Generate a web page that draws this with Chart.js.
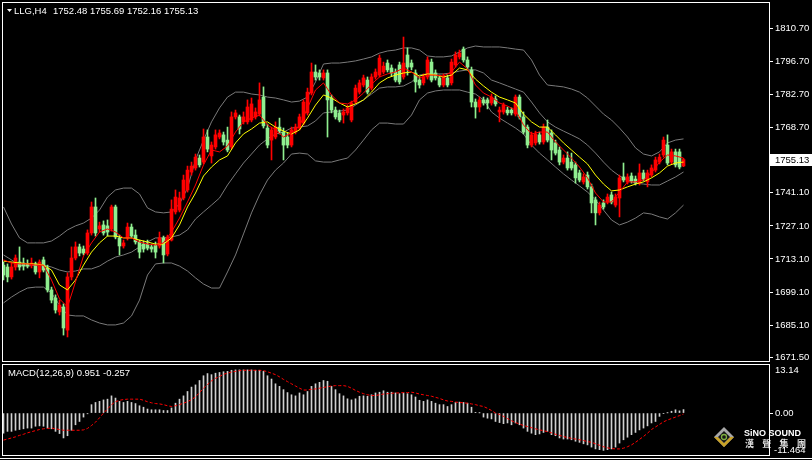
<!DOCTYPE html>
<html>
<head>
<meta charset="utf-8">
<script src="https://cdn.jsdelivr.net/npm/chart.js@4.4.1/dist/chart.umd.min.js"></script>
<style>
  html, body { margin: 0; padding: 0; background: #000; }
  #wrap { position: relative; width: 812px; height: 460px; background: #000; overflow: hidden; }
  canvas { position: absolute; left: 0; }
  #priceChart { top: 0; }
  #macdChart { top: 362px; }
</style>
</head>
<body>
<div id="wrap">
  <canvas id="priceChart" width="812" height="362"></canvas>
  <canvas id="macdChart" width="812" height="98"></canvas>
</div>
<script>
// LLG, H4 candles, oldest first
const opens = [
  1710.5, 1709.7, 1705.5, 1709.7, 1711.8, 1711.4, 1711.0, 1710.5, 1711.0, 1707.6,
  1712.7, 1709.3, 1700.0, 1696.6, 1690.7, 1692.8, 1683.0, 1705.5, 1713.5, 1718.2,
  1717.3, 1715.6, 1724.1, 1735.1, 1725.8, 1727.5, 1727.1, 1725.8, 1735.1, 1722.0,
  1718.6, 1722.0, 1726.6, 1723.2, 1720.3, 1719.4, 1719.4, 1718.2, 1719.0, 1718.6,
  1722.0, 1715.2, 1721.1, 1733.0, 1733.8, 1738.9, 1742.3, 1749.9, 1751.6, 1755.8,
  1754.1, 1764.7, 1756.7, 1760.5, 1764.7, 1765.6, 1763.4, 1760.5, 1773.2, 1773.2,
  1771.1, 1771.1, 1771.9, 1773.2, 1774.4, 1781.6, 1768.5, 1763.4, 1764.7, 1768.9,
  1766.8, 1764.7, 1761.3, 1766.8, 1768.5, 1770.6, 1774.9, 1783.3, 1792.2, 1791.8,
  1789.7, 1791.8, 1781.2, 1776.1, 1774.9, 1774.0, 1774.9, 1771.9, 1779.5, 1783.7,
  1786.7, 1788.8, 1785.4, 1790.1, 1790.9, 1792.2, 1796.0, 1793.9, 1792.2, 1795.2,
  1790.1, 1799.4, 1796.0, 1791.8, 1788.8, 1787.6, 1790.1, 1796.4, 1791.8, 1789.7,
  1786.7, 1789.7, 1787.6, 1795.2, 1798.6, 1801.9, 1797.3, 1793.1, 1779.5, 1777.4,
  1780.4, 1780.4, 1779.1, 1780.8, 1775.3, 1775.3, 1776.1, 1776.1, 1774.4, 1781.6,
  1773.2, 1768.9, 1761.3, 1762.2, 1765.6, 1762.6, 1768.9, 1766.4, 1762.2, 1759.2,
  1754.1, 1755.8, 1754.1, 1752.9, 1749.5, 1745.7, 1748.6, 1743.6, 1738.1, 1732.6,
  1736.8, 1737.2, 1740.2, 1735.9, 1738.9, 1747.8, 1745.7, 1748.2, 1746.9, 1745.2,
  1749.5, 1745.7, 1748.6, 1750.7, 1754.1, 1757.1, 1761.3, 1754.1, 1758.4, 1758.4,
  1752.48
];
const highs = [
  1711.8, 1711.0, 1711.8, 1714.8, 1718.2, 1713.5, 1712.7, 1713.5, 1711.8, 1712.7,
  1713.9, 1710.5, 1701.2, 1697.9, 1695.7, 1694.1, 1707.2, 1718.2, 1720.3, 1719.4,
  1718.6, 1725.4, 1737.2, 1738.9, 1728.7, 1729.2, 1729.6, 1735.9, 1735.9, 1723.2,
  1721.1, 1728.3, 1727.9, 1725.4, 1721.1, 1720.7, 1721.1, 1719.4, 1720.3, 1724.5,
  1722.8, 1723.2, 1738.1, 1742.3, 1741.4, 1748.6, 1752.4, 1754.1, 1757.5, 1757.1,
  1768.1, 1767.7, 1762.6, 1767.7, 1767.7, 1766.8, 1768.9, 1775.3, 1776.1, 1774.0,
  1775.3, 1780.4, 1781.2, 1777.0, 1787.6, 1785.9, 1770.2, 1768.9, 1771.1, 1772.7,
  1768.5, 1766.4, 1768.9, 1770.2, 1774.4, 1780.4, 1785.4, 1796.0, 1795.2, 1793.1,
  1793.1, 1793.1, 1782.5, 1777.4, 1776.1, 1776.6, 1778.2, 1779.9, 1786.7, 1788.8,
  1790.9, 1790.1, 1791.4, 1793.5, 1799.4, 1796.4, 1797.3, 1795.2, 1793.5, 1796.4,
  1807.0, 1802.4, 1797.3, 1793.1, 1790.1, 1791.4, 1798.6, 1797.7, 1793.1, 1790.9,
  1791.4, 1790.9, 1797.7, 1800.7, 1801.5, 1802.8, 1798.6, 1794.3, 1780.8, 1781.6,
  1781.6, 1781.2, 1782.9, 1782.1, 1777.4, 1779.1, 1777.4, 1777.0, 1782.5, 1782.5,
  1775.3, 1769.8, 1766.8, 1767.2, 1766.8, 1770.2, 1771.9, 1767.7, 1763.4, 1760.5,
  1757.1, 1758.4, 1757.9, 1754.1, 1750.7, 1749.1, 1749.9, 1744.8, 1739.3, 1737.2,
  1738.1, 1740.6, 1741.4, 1740.6, 1748.6, 1753.7, 1749.1, 1749.5, 1748.2, 1753.3,
  1750.7, 1750.7, 1752.9, 1756.2, 1757.5, 1764.7, 1765.6, 1759.6, 1759.6, 1759.6,
  1755.69
];
const lows = [
  1704.2, 1703.4, 1704.6, 1708.4, 1708.4, 1708.4, 1709.3, 1709.3, 1706.7, 1705.1,
  1707.6, 1699.1, 1694.5, 1690.2, 1689.4, 1680.9, 1680.1, 1704.2, 1712.7, 1714.4,
  1714.8, 1714.8, 1723.2, 1722.8, 1724.5, 1723.2, 1722.8, 1724.9, 1721.6, 1714.8,
  1717.7, 1721.1, 1722.0, 1719.4, 1713.5, 1716.0, 1716.9, 1716.0, 1713.5, 1717.7,
  1711.4, 1714.4, 1720.7, 1732.1, 1733.0, 1738.1, 1741.4, 1748.6, 1750.7, 1752.0,
  1753.3, 1758.4, 1753.7, 1759.6, 1763.9, 1761.3, 1758.4, 1759.6, 1772.3, 1766.0,
  1770.2, 1770.2, 1771.1, 1772.3, 1773.6, 1768.5, 1760.1, 1755.0, 1763.9, 1766.0,
  1755.0, 1760.1, 1760.5, 1766.0, 1767.7, 1769.8, 1774.0, 1782.5, 1788.8, 1788.8,
  1788.8, 1764.7, 1774.9, 1772.3, 1771.1, 1770.6, 1774.0, 1771.1, 1778.7, 1782.9,
  1785.9, 1782.9, 1784.6, 1789.2, 1790.1, 1791.4, 1792.2, 1790.5, 1788.0, 1787.1,
  1789.2, 1790.9, 1793.1, 1783.7, 1785.4, 1786.7, 1789.2, 1788.0, 1788.8, 1785.9,
  1785.9, 1785.9, 1786.7, 1794.3, 1797.7, 1796.4, 1793.5, 1777.4, 1772.7, 1775.3,
  1778.2, 1776.6, 1778.2, 1777.8, 1771.1, 1774.4, 1774.0, 1774.0, 1773.6, 1772.3,
  1766.0, 1760.1, 1760.5, 1761.3, 1761.7, 1761.7, 1762.6, 1755.0, 1757.1, 1752.9,
  1753.3, 1750.7, 1750.7, 1745.2, 1745.7, 1744.8, 1742.7, 1732.6, 1727.5, 1731.7,
  1734.2, 1736.4, 1736.4, 1735.1, 1730.9, 1745.7, 1744.8, 1745.2, 1744.4, 1744.4,
  1746.1, 1743.6, 1747.8, 1749.9, 1753.3, 1756.2, 1752.9, 1753.3, 1752.0, 1751.2,
  1752.16
];
const closes = [
  1706.3, 1705.5, 1709.7, 1713.5, 1709.7, 1710.1, 1710.1, 1711.4, 1707.6, 1711.8,
  1708.4, 1700.0, 1695.7, 1691.5, 1693.6, 1683.9, 1705.5, 1713.5, 1718.2, 1715.6,
  1715.6, 1724.1, 1735.1, 1724.1, 1727.1, 1724.1, 1724.5, 1735.1, 1722.4, 1718.6,
  1719.9, 1726.6, 1722.8, 1720.3, 1716.0, 1717.3, 1717.7, 1717.3, 1716.0, 1722.0,
  1714.8, 1722.4, 1734.2, 1739.3, 1738.9, 1746.5, 1750.7, 1752.4, 1756.2, 1752.9,
  1764.7, 1759.6, 1761.3, 1765.6, 1766.4, 1762.6, 1759.2, 1773.2, 1774.9, 1768.1,
  1773.2, 1777.4, 1778.7, 1775.3, 1780.4, 1769.4, 1761.3, 1767.7, 1768.9, 1767.2,
  1761.3, 1761.3, 1767.7, 1768.9, 1773.2, 1779.5, 1783.7, 1792.2, 1790.1, 1790.1,
  1791.8, 1780.4, 1776.1, 1773.2, 1771.9, 1775.3, 1777.0, 1779.1, 1785.4, 1787.6,
  1789.7, 1783.7, 1790.1, 1792.2, 1798.1, 1794.7, 1793.1, 1791.8, 1788.8, 1788.0,
  1796.0, 1794.3, 1794.3, 1788.0, 1786.7, 1790.1, 1797.3, 1788.8, 1789.7, 1786.7,
  1790.1, 1786.7, 1796.4, 1799.4, 1800.2, 1797.3, 1794.3, 1779.5, 1777.4, 1780.4,
  1779.1, 1779.1, 1781.6, 1778.7, 1776.1, 1778.2, 1774.9, 1774.9, 1781.6, 1773.2,
  1766.8, 1761.3, 1765.6, 1766.0, 1762.6, 1768.9, 1763.4, 1759.2, 1757.9, 1754.1,
  1755.8, 1751.6, 1751.6, 1747.4, 1746.5, 1747.8, 1743.6, 1736.8, 1732.6, 1735.9,
  1735.1, 1739.3, 1737.2, 1739.3, 1747.4, 1746.5, 1747.8, 1746.1, 1745.2, 1749.5,
  1746.9, 1749.5, 1751.6, 1755.0, 1756.2, 1763.4, 1753.7, 1758.4, 1752.9, 1752.0,
  1755.13
];

// indicator lines, one point every 2nd candle
const lineStep = 2;
const bbUpper = [
  1735.1, 1727.9, 1722.0, 1719.9, 1719.9, 1719.9, 1720.7, 1722.8, 1725.4, 1727.1,
  1728.3, 1730.4, 1733.8, 1739.3, 1742.3, 1743.1, 1743.1, 1740.6, 1734.7, 1733.0,
  1732.6, 1733.0, 1736.4, 1743.1, 1755.0, 1763.4, 1771.1, 1777.0, 1781.6, 1783.7,
  1783.7, 1782.9, 1782.5, 1781.6, 1781.2, 1780.4, 1779.5, 1779.9, 1781.6, 1788.0,
  1795.6, 1796.0, 1796.0, 1796.4, 1796.9, 1797.7, 1798.6, 1800.2, 1801.1, 1801.5,
  1802.4, 1802.4, 1801.5, 1799.0, 1798.6, 1798.6, 1799.0, 1800.7, 1802.4, 1803.2,
  1802.8, 1802.8, 1802.8, 1802.4, 1801.9, 1801.5, 1797.3, 1790.9, 1786.7, 1786.3,
  1785.9, 1785.0, 1783.7, 1781.2, 1777.8, 1774.4, 1771.9, 1768.5, 1764.7, 1760.1,
  1757.5, 1756.7, 1758.4, 1762.2, 1763.4, 1763.9
];
const bbMiddle = [
  1714.8, 1712.7, 1710.5, 1710.1, 1710.5, 1710.5, 1709.7, 1708.4, 1707.6, 1708.0,
  1708.9, 1708.9, 1710.1, 1712.2, 1713.9, 1714.8, 1716.0, 1718.2, 1720.3, 1722.0,
  1722.0, 1722.4, 1723.2, 1725.4, 1730.0, 1733.0, 1735.9, 1738.9, 1744.4, 1749.1,
  1753.7, 1757.5, 1761.3, 1763.9, 1766.0, 1766.8, 1768.5, 1768.9, 1769.4, 1771.5,
  1774.9, 1775.3, 1775.7, 1776.1, 1778.2, 1780.4, 1782.9, 1785.4, 1785.9, 1785.9,
  1786.3, 1788.0, 1790.9, 1791.4, 1791.4, 1791.4, 1791.8, 1792.6, 1793.1, 1793.1,
  1791.8, 1788.8, 1787.6, 1786.3, 1785.0, 1783.7, 1779.5, 1774.9, 1771.1, 1768.9,
  1767.2, 1765.6, 1763.9, 1761.3, 1757.9, 1754.1, 1750.7, 1748.2, 1746.5, 1745.2,
  1744.8, 1744.4, 1744.4, 1746.1, 1747.8, 1749.9
];
const bbLower = [
  1694.5, 1697.0, 1699.1, 1700.8, 1701.2, 1701.2, 1698.7, 1693.6, 1689.4, 1689.0,
  1689.0, 1687.3, 1686.0, 1685.2, 1685.2, 1686.0, 1689.0, 1695.7, 1706.3, 1711.0,
  1711.4, 1711.4, 1710.1, 1708.0, 1705.1, 1702.5, 1700.8, 1700.8, 1707.6, 1714.8,
  1723.7, 1732.6, 1740.2, 1746.5, 1750.7, 1753.7, 1757.5, 1757.9, 1757.5, 1754.6,
  1754.1, 1754.1, 1755.0, 1755.8, 1759.2, 1763.4, 1767.7, 1770.6, 1770.6, 1770.2,
  1770.2, 1774.0, 1780.4, 1783.3, 1784.2, 1784.6, 1784.6, 1784.6, 1783.7, 1782.9,
  1780.4, 1775.3, 1772.7, 1770.6, 1768.5, 1766.0, 1761.3, 1757.9, 1755.0, 1752.0,
  1749.1, 1746.5, 1744.0, 1741.4, 1738.1, 1733.8, 1729.6, 1727.5, 1728.7, 1730.4,
  1732.6, 1732.1, 1730.9, 1730.0, 1732.6, 1735.9
];
const maSlow = [   // yellow
  1712.2, 1711.8, 1711.4, 1711.0, 1711.0, 1710.5, 1708.4, 1702.1, 1700.0, 1704.2,
  1710.5, 1716.0, 1719.9, 1722.8, 1722.8, 1722.0, 1722.0, 1721.1, 1720.3, 1719.4,
  1719.4, 1722.0, 1727.5, 1735.1, 1741.0, 1748.2, 1752.0, 1755.0, 1756.7, 1762.2,
  1766.0, 1768.1, 1770.6, 1771.1, 1768.9, 1767.2, 1766.0, 1767.7, 1772.7, 1778.2,
  1782.5, 1781.2, 1779.1, 1777.4, 1778.7, 1780.4, 1783.7, 1787.6, 1789.7, 1790.9,
  1791.8, 1792.2, 1790.5, 1791.4, 1790.9, 1790.1, 1790.9, 1793.9, 1793.1, 1789.2,
  1786.3, 1783.7, 1781.6, 1780.4, 1779.1, 1774.4, 1771.1, 1768.9, 1768.9, 1765.6,
  1762.2, 1759.2, 1756.2, 1753.3, 1748.6, 1744.8, 1741.9, 1742.3, 1743.6, 1744.8,
  1745.7, 1747.4, 1749.5, 1752.4, 1753.7, 1754.1
];
const maFast = [   // red
  1712.7, 1711.4, 1711.0, 1711.0, 1710.5, 1710.5, 1704.2, 1696.2, 1692.8, 1703.4,
  1714.4, 1719.9, 1724.5, 1725.8, 1724.5, 1722.0, 1722.0, 1720.3, 1719.4, 1719.0,
  1719.9, 1724.5, 1730.4, 1737.2, 1744.4, 1752.9, 1759.2, 1758.4, 1760.9, 1766.8,
  1771.1, 1772.7, 1774.0, 1769.8, 1767.7, 1764.7, 1766.4, 1769.4, 1777.0, 1784.6,
  1787.6, 1782.5, 1779.1, 1778.7, 1780.4, 1783.3, 1787.1, 1790.1, 1791.4, 1792.2,
  1793.9, 1792.2, 1789.7, 1790.9, 1790.9, 1790.5, 1792.2, 1796.4, 1793.5, 1786.7,
  1783.3, 1781.6, 1779.1, 1777.8, 1776.1, 1769.8, 1766.0, 1766.8, 1766.8, 1762.6,
  1759.2, 1755.8, 1752.0, 1747.4, 1741.0, 1737.2, 1737.2, 1741.4, 1745.7, 1745.7,
  1746.5, 1749.5, 1754.1, 1757.1, 1756.7, 1755.8
];

// MACD(12,26,9): histogram and dotted signal line
const macdMain = [
  -5.5, -5.0, -5.0, -4.7, -4.5, -4.3, -4.1, -4.1, -3.6, -3.5,
  -3.6, -4.1, -4.3, -5.0, -5.6, -6.8, -6.2, -4.7, -3.2, -2.3,
  -1.1, -0.2, 2.3, 2.9, 3.2, 3.6, 3.8, 4.7, 4.1, 3.2,
  2.9, 3.2, 2.9, 2.6, 2.0, 1.6, 1.1, 0.9, 0.9, 0.9,
  0.7, 0.7, 1.4, 2.7, 3.8, 4.7, 5.9, 7.1, 7.7, 8.9,
  10.2, 10.8, 10.5, 10.9, 11.1, 11.3, 11.4, 11.7, 11.8, 11.8,
  11.8, 11.8, 11.8, 11.7, 11.7, 11.4, 10.2, 9.3, 8.0, 7.3,
  6.4, 5.6, 5.0, 4.7, 5.5, 5.0, 5.9, 7.3, 8.0, 8.4,
  8.9, 8.7, 7.3, 6.4, 5.3, 4.7, 3.9, 3.6, 3.9, 4.6,
  4.7, 4.6, 5.0, 5.5, 5.7, 6.1, 5.7, 5.7, 5.5, 5.3,
  5.5, 5.3, 5.0, 4.4, 3.5, 3.2, 3.6, 3.2, 2.7, 2.3,
  2.3, 1.8, 2.3, 2.9, 3.0, 2.9, 2.7, 1.6, 0.2, 0.05,
  -1.1, -1.4, -1.6, -2.3, -2.6, -2.9, -2.7, -3.2, -2.7, -3.2,
  -4.1, -5.0, -5.5, -5.9, -5.7, -5.3, -5.0, -5.9, -6.2, -6.8,
  -7.1, -7.1, -7.3, -7.7, -8.0, -8.4, -8.7, -9.3, -9.8, -10.0,
  -10.2, -10.0, -9.8, -9.3, -8.2, -7.3, -6.6, -5.9, -5.3, -4.6,
  -4.1, -3.5, -2.7, -2.3, -0.9, -0.1, 0.05, 0.5, 0.9, 0.6,
  0.951
];
const macdSignal = [
  -7.4, -7.1, -6.8, -6.5, -6.1, -5.8, -5.4, -5.1, -4.8, -4.5,
  -4.3, -4.2, -4.1, -4.3, -4.5, -4.7, -4.7, -4.7, -4.7, -4.7,
  -4.6, -4.2, -3.4, -2.5, -1.3, 0.0, 1.1, 2.3, 3.1, 3.5,
  3.7, 3.8, 3.8, 3.8, 3.8, 3.5, 3.1, 2.8, 2.6, 2.5,
  2.3, 2.0, 1.8, 2.0, 2.3, 2.7, 3.1, 3.7, 4.4, 5.6,
  6.8, 7.8, 8.8, 9.5, 10.0, 10.6, 10.9, 11.2, 11.4, 11.6,
  11.7, 11.7, 11.7, 11.7, 11.7, 11.6, 11.3, 10.9, 10.5, 9.9,
  9.2, 8.6, 8.0, 7.4, 6.8, 6.3, 6.3, 6.5, 6.6, 6.8,
  7.0, 7.2, 7.4, 7.5, 7.5, 7.5, 7.3, 6.8, 6.2, 5.7,
  5.3, 5.0, 4.8, 4.8, 5.0, 5.2, 5.3, 5.4, 5.5, 5.5,
  5.6, 5.6, 5.7, 5.5, 5.2, 5.0, 4.8, 4.6, 4.3, 4.0,
  3.6, 3.3, 3.2, 3.0, 2.9, 2.8, 2.7, 2.5, 2.3, 2.0,
  1.8, 1.3, 0.7, 0.0, -0.4, -0.9, -1.5, -2.1, -2.6, -3.0,
  -3.4, -3.7, -4.0, -4.3, -4.6, -4.8, -5.1, -5.4, -5.8, -6.1,
  -6.4, -6.7, -6.9, -7.1, -7.3, -7.5, -7.8, -8.0, -8.4, -8.8,
  -9.2, -9.5, -9.7, -9.8, -9.8, -9.6, -9.2, -8.7, -8.0, -7.2,
  -6.4, -5.5, -4.5, -3.8, -3.1, -2.4, -1.9, -1.5, -1.1, -0.7,
  -0.257
];

// axis labels
const priceTicks = [1671.50, 1685.10, 1699.10, 1713.10, 1727.10, 1741.10, 1768.70, 1782.70, 1796.70, 1810.70];
const priceMin = 1669.93, priceMax = 1820.98;
const macdMax = 13.14, macdMin = -11.464;
const symbol = 'LLG,H4';

const upColor = '#ff0000', downColor = '#90ee90';
const bandColor = '#7a7a7a', slowColor = '#ffff00', fastColor = '#ff0000';
const histColor = '#d0d0d0', signalColor = '#ff0000';
const labelFont = '9.5px "Liberation Sans", Arial, sans-serif';

// x: candle i sits at 3.5 + 4*i px, empty chart shift on the right
const xAxis = { type: 'linear', display: false, offset: false, min: -0.125, max: 191.375 };

const candleColors = closes.map((c, i) => c >= opens[i] ? upColor : downColor);
const linePts = arr => arr.map((v, i) => ({ x: i * lineStep, y: v }));
const lineSet = (arr, color, order) => ({
  type: 'line', data: linePts(arr), borderColor: color, borderWidth: 1,
  pointRadius: 0, tension: 0, order: order
});

const priceFrame = {
  id: 'priceFrame',
  afterDraw(chart) {
    const ctx = chart.ctx, a = chart.chartArea, y = chart.scales.y;
    ctx.save();
    ctx.strokeStyle = '#fff';
    ctx.lineWidth = 1;
    ctx.strokeRect(a.left - 0.5, a.top - 1.5, a.right - a.left + 1, a.bottom - a.top + 2);
    // title
    ctx.fillStyle = '#fff';
    ctx.beginPath();
    ctx.moveTo(7, 9); ctx.lineTo(12, 9); ctx.lineTo(9.5, 12); ctx.closePath();
    ctx.fill();
    ctx.font = labelFont;
    ctx.textBaseline = 'middle';
    const n = closes.length - 1;
    ctx.fillText(symbol, 14, 11);
    ctx.fillText([opens[n], highs[n], lows[n], closes[n]].map(v => v.toFixed(2)).join(' '), 53, 11);
    // current price box
    const py = Math.round(y.getPixelForValue(closes[n]));
    ctx.fillRect(770, py - 6, 42, 12);
    ctx.fillStyle = '#000';
    ctx.fillText(closes[n].toFixed(2), 775, py + 0.5);
    ctx.restore();
  }
};

new Chart(document.getElementById('priceChart'), {
  type: 'bar',
  data: {
    datasets: [
      lineSet(bbUpper, bandColor, 3),
      lineSet(bbMiddle, bandColor, 3),
      lineSet(bbLower, bandColor, 3),
      { data: closes.map((c, i) => ({ x: i, y: [lows[i], highs[i]] })),
        backgroundColor: candleColors, barThickness: 1, grouped: false, order: 2 },
      { data: closes.map((c, i) => ({ x: i, y: [Math.min(opens[i], c), Math.max(opens[i], c)] })),
        backgroundColor: candleColors, barThickness: 3, minBarLength: 1, grouped: false, order: 2 },
      lineSet(maSlow, slowColor, 1),
      lineSet(maFast, fastColor, 0)
    ]
  },
  options: {
    responsive: false, animation: false, devicePixelRatio: 1,
    layout: { padding: { left: 3, top: 4, right: 0, bottom: 1 }, autoPadding: false },
    plugins: { legend: { display: false }, tooltip: { enabled: false } },
    scales: {
      x: xAxis,
      y: {
        position: 'right', min: priceMin, max: priceMax,
        afterBuildTicks: s => { s.ticks = priceTicks.map(v => ({ value: v })); },
        afterFit: s => { s.width = 43; s.paddingTop = 0; s.paddingBottom = 0; },
        grid: { drawOnChartArea: false, drawTicks: true, tickLength: 4, color: '#fff' },
        border: { display: false },
        ticks: { color: '#fff', padding: 2, autoSkip: false,
                 font: { family: '"Liberation Sans", Arial, sans-serif', size: 9.5 },
                 callback: v => Number(v).toFixed(2) }
      }
    }
  },
  plugins: [priceFrame]
});

function drawLogo(ctx, cx, cy) {
  const d = (r) => { ctx.beginPath(); ctx.moveTo(cx, cy - r); ctx.lineTo(cx + r, cy); ctx.lineTo(cx, cy + r); ctx.lineTo(cx - r, cy); ctx.closePath(); };
  d(10); ctx.fillStyle = '#a8a8a8'; ctx.fill();
  ctx.beginPath();
  ctx.moveTo(cx + 10, cy); ctx.lineTo(cx, cy + 10); ctx.lineTo(cx - 10, cy);
  ctx.lineTo(cx - 6, cy); ctx.lineTo(cx, cy + 6); ctx.lineTo(cx + 6, cy); ctx.closePath();
  ctx.fillStyle = '#c9a227'; ctx.fill();
  d(6); ctx.fillStyle = '#151515'; ctx.fill();
  ctx.beginPath(); ctx.arc(cx, cy, 2.5, 0, Math.PI * 2);
  ctx.strokeStyle = '#7fb040'; ctx.lineWidth = 1.3; ctx.stroke();
}

const macdFrame = {
  id: 'macdFrame',
  beforeDatasetsDraw(chart) {
    const ctx = chart.ctx;
    ctx.save();
    drawLogo(ctx, 724, 75);
    ctx.fillStyle = '#fff';
    ctx.font = 'bold 9px "Liberation Sans", Arial, sans-serif';
    ctx.textBaseline = 'middle';
    ctx.fillText('SiNO SOUND', 744, 71.5);
    ctx.fillStyle = '#e0e0e0';
    ctx.font = 'bold 9px "Noto Sans CJK TC", sans-serif';
    ['漢', '聲', '集', '團'].forEach((ch, i) => ctx.fillText(ch, 745 + i * 17.3, 81.5));
    ctx.restore();
  },
  afterDraw(chart) {
    const ctx = chart.ctx, a = chart.chartArea;
    ctx.save();
    ctx.strokeStyle = '#fff';
    ctx.lineWidth = 1;
    ctx.strokeRect(a.left - 0.5, a.top - 0.5, a.right - a.left + 1, a.bottom - a.top + 1);
    ctx.beginPath(); ctx.moveTo(0, a.bottom + 3.5); ctx.lineTo(812, a.bottom + 3.5); ctx.stroke();
    ctx.fillStyle = '#fff';
    ctx.font = labelFont;
    ctx.textBaseline = 'middle';
    const n = macdMain.length - 1;
    ctx.fillText('MACD(12,26,9) ' + macdMain[n].toFixed(3) + ' ' + macdSignal[n].toFixed(3), 8, 11);
    ctx.fillText(String(macdMax), 775, a.top + 5.5);
    ctx.fillText(String(macdMin), 774, a.bottom - 5);
    ctx.restore();
  }
};

new Chart(document.getElementById('macdChart'), {
  type: 'bar',
  data: {
    datasets: [
      { type: 'line', data: macdSignal.map((v, i) => ({ x: i, y: v })), borderColor: signalColor,
        borderWidth: 1, borderDash: [3, 2], pointRadius: 0, tension: 0, order: 0 },
      { data: macdMain.map((v, i) => ({ x: i, y: v })), backgroundColor: histColor,
        barThickness: 1, order: 1 }
    ]
  },
  options: {
    responsive: false, animation: false, devicePixelRatio: 1,
    layout: { padding: { left: 3, top: 3, right: 0, bottom: 5 }, autoPadding: false },
    plugins: { legend: { display: false }, tooltip: { enabled: false } },
    scales: {
      x: xAxis,
      y: {
        position: 'right', min: macdMin, max: macdMax,
        afterBuildTicks: s => { s.ticks = [{ value: 0 }]; },
        afterFit: s => { s.width = 43; s.paddingTop = 0; s.paddingBottom = 0; },
        grid: { drawOnChartArea: false, drawTicks: true, tickLength: 4, color: '#fff' },
        border: { display: false },
        ticks: { color: '#fff', padding: 2, autoSkip: false,
                 font: { family: '"Liberation Sans", Arial, sans-serif', size: 9.5 },
                 callback: v => Number(v).toFixed(2) }
      }
    }
  },
  plugins: [macdFrame]
});
</script>
</body>
</html>
